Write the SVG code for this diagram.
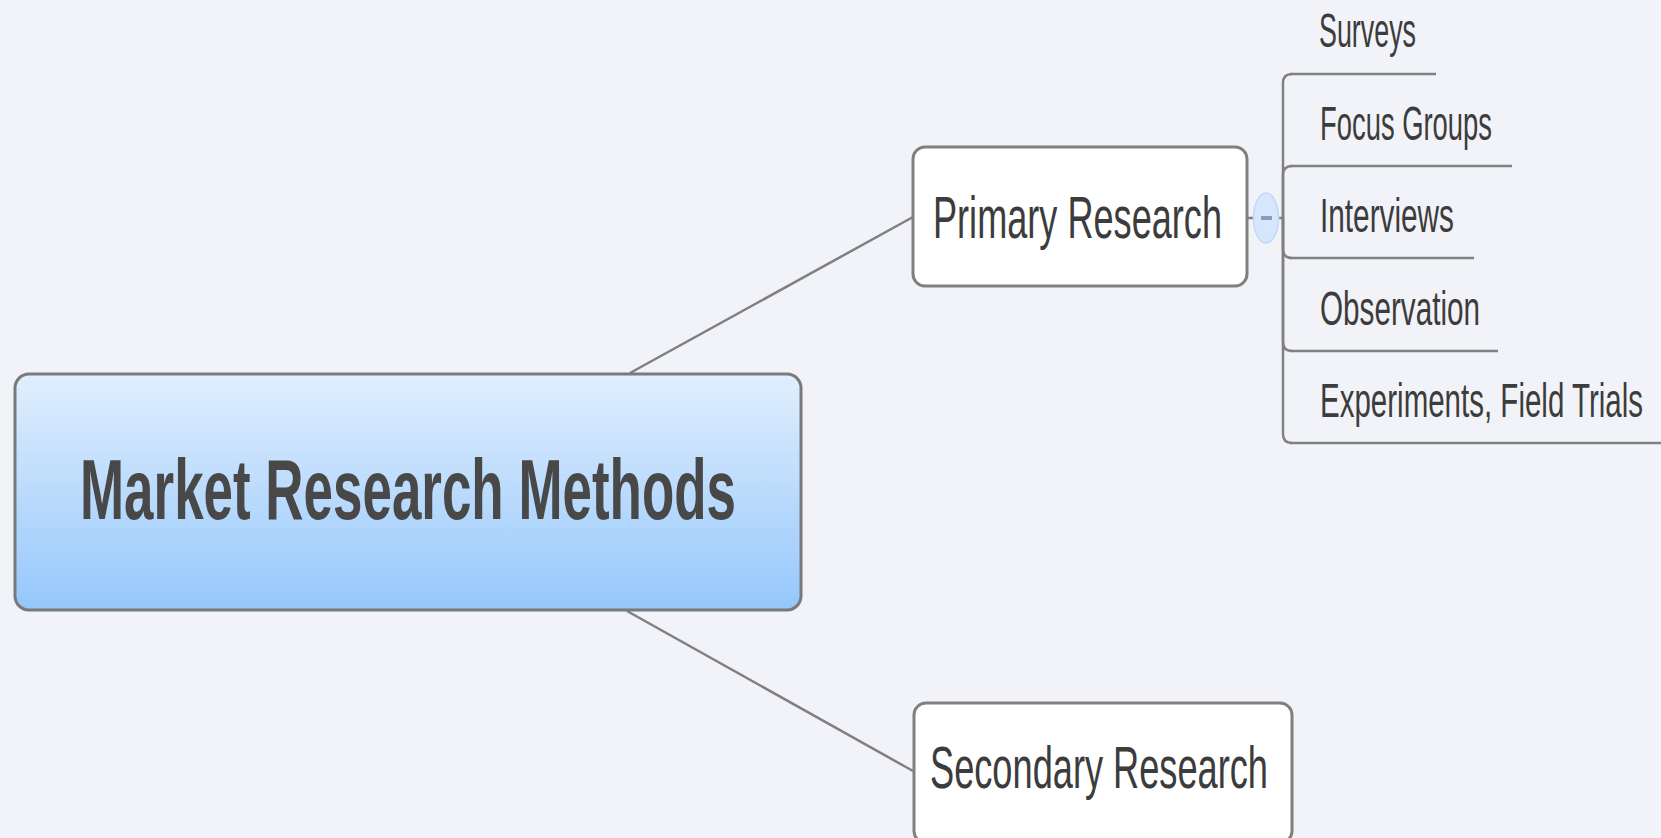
<svg xmlns="http://www.w3.org/2000/svg" width="1661" height="838" viewBox="0 0 1661 838">
<style>
.bg{fill:#f2f3f8}
.conn{fill:none;stroke:#808080;stroke-width:2.5}
.box{fill:#ffffff;stroke:#808080;stroke-width:3}
.ul{stroke:#808080;stroke-width:2.5}
.t{font-family:"Liberation Sans",Arial,sans-serif;fill:#3c3c3c}
.main{font-size:86px;font-weight:bold;fill:#484848}
.mid{font-size:60px}
.leaf{font-size:48px}
</style>
<defs>
<linearGradient id="g" x1="0" y1="0" x2="0" y2="1">
<stop offset="0" stop-color="#e1effe"/>
<stop offset="1" stop-color="#95c7fb"/>
</linearGradient>
</defs>
<rect class="bg" x="0" y="0" width="1661" height="838"/>
<g id="connectors">
<line class="conn" x1="630" y1="373" x2="913" y2="217"/>
<line class="conn" x1="627" y1="611" x2="913" y2="771"/>
<line class="conn" x1="1247" y1="218" x2="1283" y2="218"/>
<path class="conn" d="M1283 218 V83 Q1283 74 1292 74"/>
<path class="conn" d="M1283 218 V175 Q1283 166 1292 166"/>
<path class="conn" d="M1283 218 V249 Q1283 258 1292 258"/>
<path class="conn" d="M1283 218 V342 Q1283 351 1292 351"/>
<path class="conn" d="M1283 218 V434 Q1283 443 1292 443"/>
</g>
<g id="central">
<rect x="15" y="374" width="786" height="236" rx="14" fill="url(#g)" stroke="#7a7a7a" stroke-width="3"/>
<text class="t main" x="80" y="519" textLength="656" lengthAdjust="spacingAndGlyphs">Market Research Methods</text>
</g>
<g id="primary">
<rect class="box" x="913" y="147" width="334" height="139" rx="12"/>
<text class="t mid" x="933" y="238" textLength="289" lengthAdjust="spacingAndGlyphs">Primary Research</text>
</g>
<g id="collapse">
<ellipse cx="1266" cy="218" rx="12.5" ry="25" fill="#d6e7fd" stroke="#c2d8f8" stroke-width="1.5"/>
<line x1="1261" y1="218" x2="1272" y2="218" stroke="#8a9ac0" stroke-width="4"/>
</g>
<g id="secondary">
<rect class="box" x="914" y="703" width="378" height="140" rx="12"/>
<text class="t mid" x="930" y="788" textLength="338" lengthAdjust="spacingAndGlyphs">Secondary Research</text>
</g>
<g id="surveys">
<line class="ul" x1="1290" y1="74" x2="1436" y2="74"/>
<text class="t leaf" x="1319" y="47" textLength="97" lengthAdjust="spacingAndGlyphs">Surveys</text>
</g>
<g id="focus-groups">
<line class="ul" x1="1290" y1="166" x2="1512" y2="166"/>
<text class="t leaf" x="1320" y="140" textLength="172" lengthAdjust="spacingAndGlyphs">Focus Groups</text>
</g>
<g id="interviews">
<line class="ul" x1="1290" y1="258" x2="1474" y2="258"/>
<text class="t leaf" x="1320" y="232" textLength="134" lengthAdjust="spacingAndGlyphs">Interviews</text>
</g>
<g id="observation">
<line class="ul" x1="1290" y1="351" x2="1498" y2="351"/>
<text class="t leaf" x="1320" y="325" textLength="160" lengthAdjust="spacingAndGlyphs">Observation</text>
</g>
<g id="experiments">
<line class="ul" x1="1290" y1="443" x2="1661" y2="443"/>
<text class="t leaf" x="1320" y="417" textLength="323" lengthAdjust="spacingAndGlyphs">Experiments, Field Trials</text>
</g>
</svg>
